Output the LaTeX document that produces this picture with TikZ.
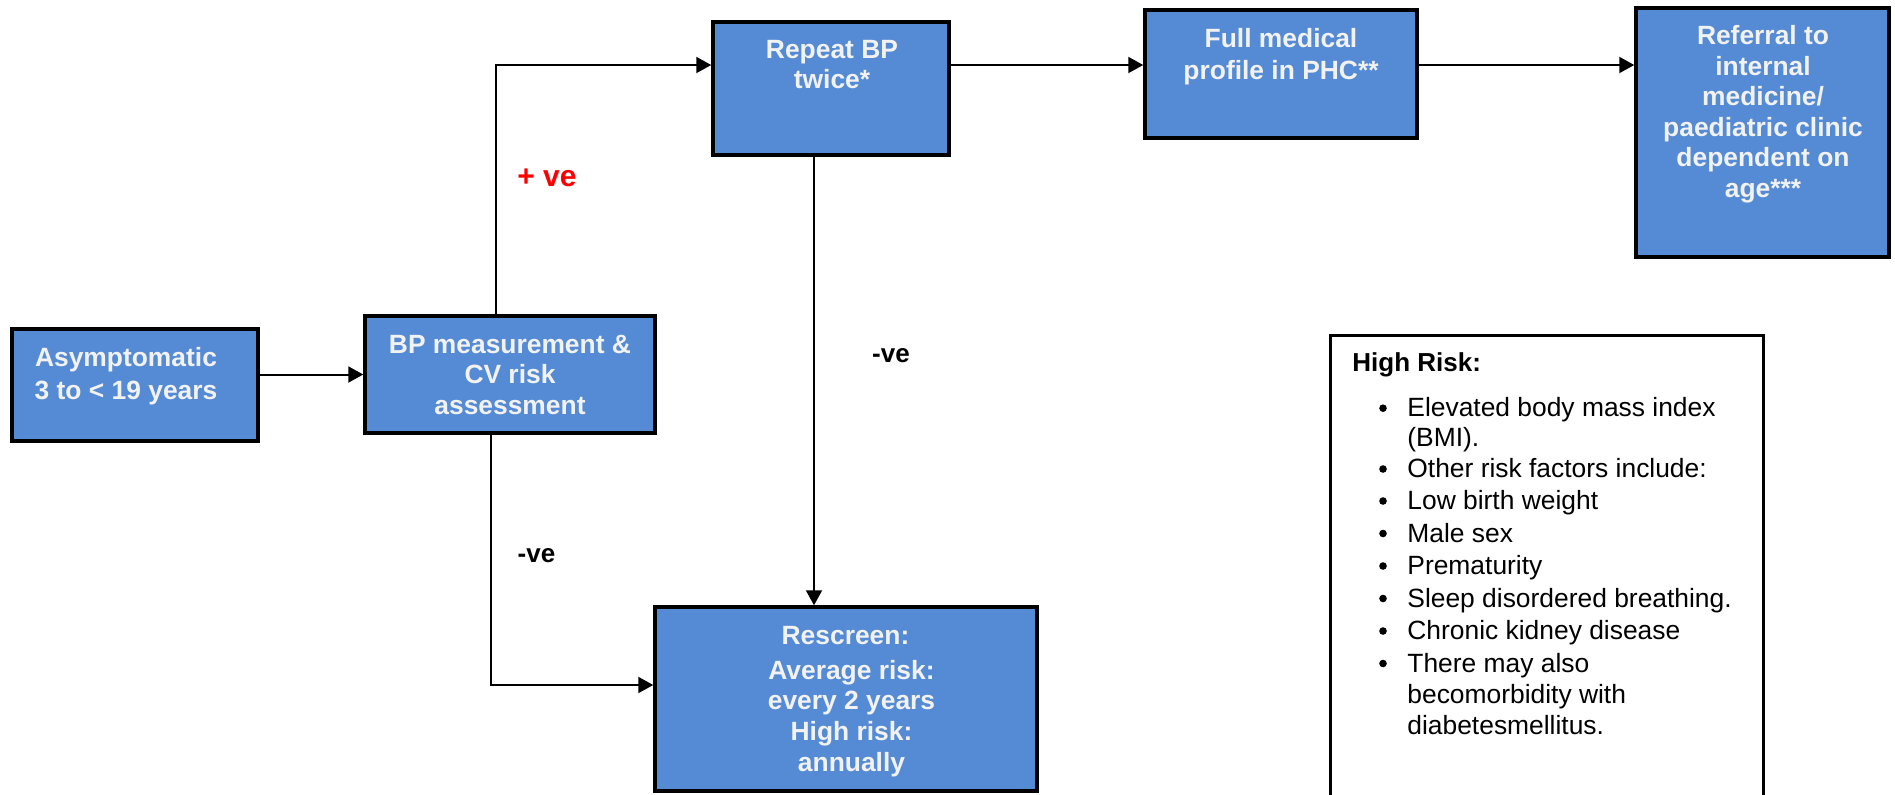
\documentclass[tikz,border=0pt]{standalone}
\usepackage{fontspec}
\setmainfont{Liberation Sans}
\usetikzlibrary{arrows.meta}
\definecolor{boxblue}{RGB}{85,139,212}
\definecolor{boxtext}{RGB}{242,242,242}
\definecolor{posred}{RGB}{255,0,0}
\begin{document}
\begin{tikzpicture}[x=0.5pt,y=-0.5pt,
  stage/.style={draw=black,line width=1.75pt,fill=boxblue,inner sep=0pt},
  stagetext/.style={text=boxtext,font=\fontsize{13.2pt}{15.8pt}\selectfont\bfseries,
    anchor=base,inner sep=0pt},
  flow/.style={line width=1pt,-{Triangle[length=7.5pt,width=8pt]}},
  branch/.style={font=\fontsize{13pt}{15.6pt}\selectfont\bfseries,anchor=base,inner sep=0pt},
  notebox/.style={draw=black,line width=1.5pt,fill=white},
  notetext/.style={font=\fontsize{13.2pt}{15.8pt}\selectfont,anchor=base west,inner sep=0pt},
  bulletdot/.style={circle,fill=black,inner sep=0pt,minimum size=3.8pt}
]
\useasboundingbox (0,0) rectangle (1895,794);
\clip (0,0) rectangle (1895,794);

% ---- process boxes ----
\node[stage,minimum width=123pt,minimum height=56pt]   (asym) at (135,385)    {};
\node[stage,minimum width=145pt,minimum height=58.5pt] (bp)   at (510,374.5)  {};
\node[stage,minimum width=118pt,minimum height=66.5pt] (rep)  at (831,88.5)   {};
\node[stage,minimum width=136pt,minimum height=64pt]   (full) at (1281,74)    {};
\node[stage,minimum width=126.5pt,minimum height=124.5pt] (ref) at (1762.5,132.5) {};
\node[stage,minimum width=191pt,minimum height=92pt]   (resc) at (846,699)    {};

% ---- box captions ----
\node[stagetext] (asymA) at (126,366)   {Asymptomatic};
\node[stagetext] (asymB) at (126,399)   {3 to < 19 years};

\node[stagetext] (bpA) at (510,353)     {BP measurement \&};
\node[stagetext] (bpB) at (510,383.5)   {CV risk};
\node[stagetext] (bpC) at (510,414)     {assessment};

\node[stagetext] (repA) at (832,58)     {Repeat BP};
\node[stagetext] (repB) at (832,88.5)   {twice*};

\node[stagetext] (fullA) at (1281,47)   {Full medical};
\node[stagetext] (fullB) at (1281,79.5) {profile in PHC**};

\node[stagetext] (refA) at (1763,44.5)  {Referral to};
\node[stagetext] (refB) at (1763,75)    {internal};
\node[stagetext] (refC) at (1763,105.5) {medicine/};
\node[stagetext] (refD) at (1763,136)   {paediatric clinic};
\node[stagetext] (refE) at (1763,166.5) {dependent on};
\node[stagetext] (refF) at (1763,197)   {age***};

\node[stagetext] (rescA) at (845.5,644) {Rescreen:};
\node[stagetext] (rescB) at (851.5,679) {Average risk:};
\node[stagetext] (rescC) at (851.5,709.5) {every 2 years};
\node[stagetext] (rescD) at (851.5,740.5) {High risk:};
\node[stagetext] (rescE) at (851.5,771) {annually};

% ---- connectors ----
\draw[flow] (asym.east |- bp.west) -- (bp.west);
\draw[flow] ([xshift=-7pt]bp.north) |- ([yshift=11.75pt]rep.west);
\draw[flow] ([yshift=11.75pt]rep.east) -- ([yshift=11.75pt]rep.east -| full.west);
\draw[flow] ([yshift=4.5pt]full.east) -- ([yshift=4.5pt]full.east -| ref.west);
\draw[flow] ([xshift=-8.5pt]rep.south) -- ([xshift=-8.5pt]rep.south |- resc.north);
\draw[flow] ([xshift=-9.5pt]bp.south) |- ([yshift=7pt]resc.west);

% ---- branch labels ----
\node[branch,text=posred,font=\fontsize{15pt}{18pt}\selectfont\bfseries] (pos) at (547,186) {+ ve};
\node[branch] (negA) at (891,362.5) {-ve};
\node[branch] (negB) at (536.5,562.5) {-ve};

% ---- high risk note ----
\draw[notebox] (1330,335) rectangle (1763,820);
\node[notetext,font=\fontsize{13pt}{15.6pt}\selectfont\bfseries] (hr) at (1352,371) {High Risk:};
\foreach \txt/\yy/\mk in {%
  Elevated body mass index/416.7/1,
  (BMI)./446/0,
  Other risk factors include:/477.5/1,
  Low birth weight/509.5/1,
  Male sex/542/1,
  Prematurity/574.5/1,
  Sleep disordered breathing./607/1,
  Chronic kidney disease/639.5/1,
  There may also/672/1,
  becomorbidity with/703/0,
  diabetesmellitus./734.7/0}{
  \node[notetext] at (1407,\yy) {\txt};
  \ifnum\mk=1 \node[bulletdot] at (1383,\yy-8.5) {};\fi
}
\end{tikzpicture}
\end{document}
